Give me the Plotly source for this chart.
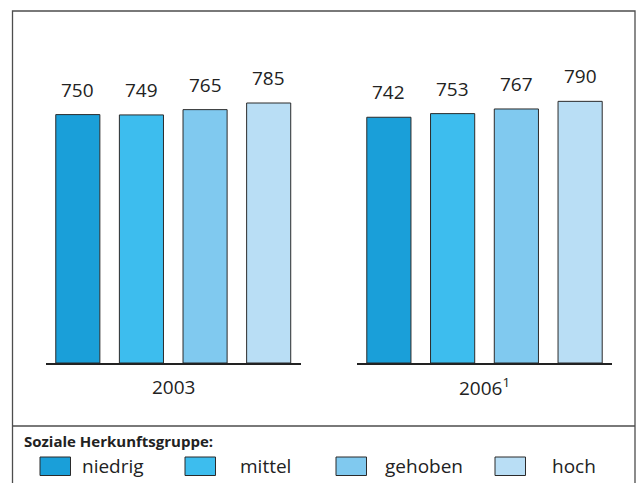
import plotly.graph_objects as go

# ---- data ----
groups = ["2003", "2006<sup>1</sup>"]
categories = ["niedrig", "mittel", "gehoben", "hoch"]
values_2003 = [750, 749, 765, 785]
values_2006 = [742, 753, 767, 790]
colors = ["#1a9fd9", "#3dbdee", "#80c9ef", "#b9def5"]
legend_title = "Soziale Herkunftsgruppe:"

# ---- layout constants (pixels) ----
W, H = 643, 483
FONT = "Open Sans, DejaVu Sans, sans-serif"
TXT = "#222222"


def px_x(p):
    return p / W


def px_y(p):
    return (H - p) / H


fig = go.Figure()
series = [values_2003, values_2006]
axes = ["x", "x2"]
for g, vals, xa in zip(groups, series, axes):
    fig.add_trace(go.Bar(
        x=categories, y=vals, xaxis=xa, yaxis="y",
        marker=dict(color=colors, line=dict(color="#2b2b2b", width=1)),
        showlegend=False, hoverinfo="skip",
    ))
    for c, v in zip(categories, vals):
        fig.add_annotation(
            x=c, y=v, xref=xa, yref="y", text=str(v), showarrow=False,
            yanchor="middle", yshift=25,
            font=dict(family=FONT, size=19, color=TXT),
        )
    fig.add_annotation(
        x=0.5, y=0, xref=xa + " domain", yref="y", text=g, showarrow=False,
        yanchor="middle", yshift=-24,
        font=dict(family=FONT, size=19, color=TXT),
    )

axis_common = dict(showline=True, linecolor="#222222", linewidth=1.5,
                   showticklabels=False, ticks="", showgrid=False,
                   zeroline=False, fixedrange=True)
fig.update_layout(
    width=W, height=H,
    margin=dict(l=0, r=0, t=0, b=0),
    paper_bgcolor="white", plot_bgcolor="white",
    bargap=0.307,
    xaxis=dict(domain=[px_x(46), px_x(300.5)], **axis_common),
    xaxis2=dict(domain=[px_x(357), px_x(612)], **axis_common),
    yaxis=dict(domain=[px_y(363), 1], range=[0, 363 / 0.3312],
               visible=False, fixedrange=True),
)

# frame and separator
fig.add_shape(type="rect", xref="paper", yref="paper",
              x0=px_x(12.5), x1=px_x(635), y0=-0.1, y1=px_y(11),
              line=dict(color="#4d4d4d", width=1.3), fillcolor="rgba(0,0,0,0)")
fig.add_shape(type="line", xref="paper", yref="paper",
              x0=px_x(12.5), x1=px_x(635), y0=px_y(426), y1=px_y(426),
              line=dict(color="#4d4d4d", width=1.3))

# legend
fig.add_annotation(x=px_x(22), y=px_y(441), xref="paper", yref="paper",
                   text="<b>" + legend_title + "</b>", showarrow=False,
                   xanchor="left", yanchor="middle",
                   font=dict(family="Liberation Sans Narrow, Open Sans, sans-serif",
                             size=15, color=TXT))
box_left = [40, 185, 336, 495]
text_left = [80, 238, 383, 550]
for c, col, bx, tx in zip(categories, colors, box_left, text_left):
    fig.add_shape(type="rect", xref="paper", yref="paper",
                  x0=px_x(bx), x1=px_x(bx + 30.5), y0=px_y(475.5), y1=px_y(457),
                  fillcolor=col, line=dict(color="#2b2b2b", width=1))
    fig.add_annotation(x=px_x(tx), y=px_y(466), xref="paper", yref="paper",
                       text=c, showarrow=False, xanchor="left", yanchor="middle",
                       font=dict(family=FONT, size=19, color=TXT))

fig.write_html(
    "out.html",
    config=dict(displayModeBar=False),
    post_script="document.body.style.margin='0';document.body.style.overflow='hidden';",
)
